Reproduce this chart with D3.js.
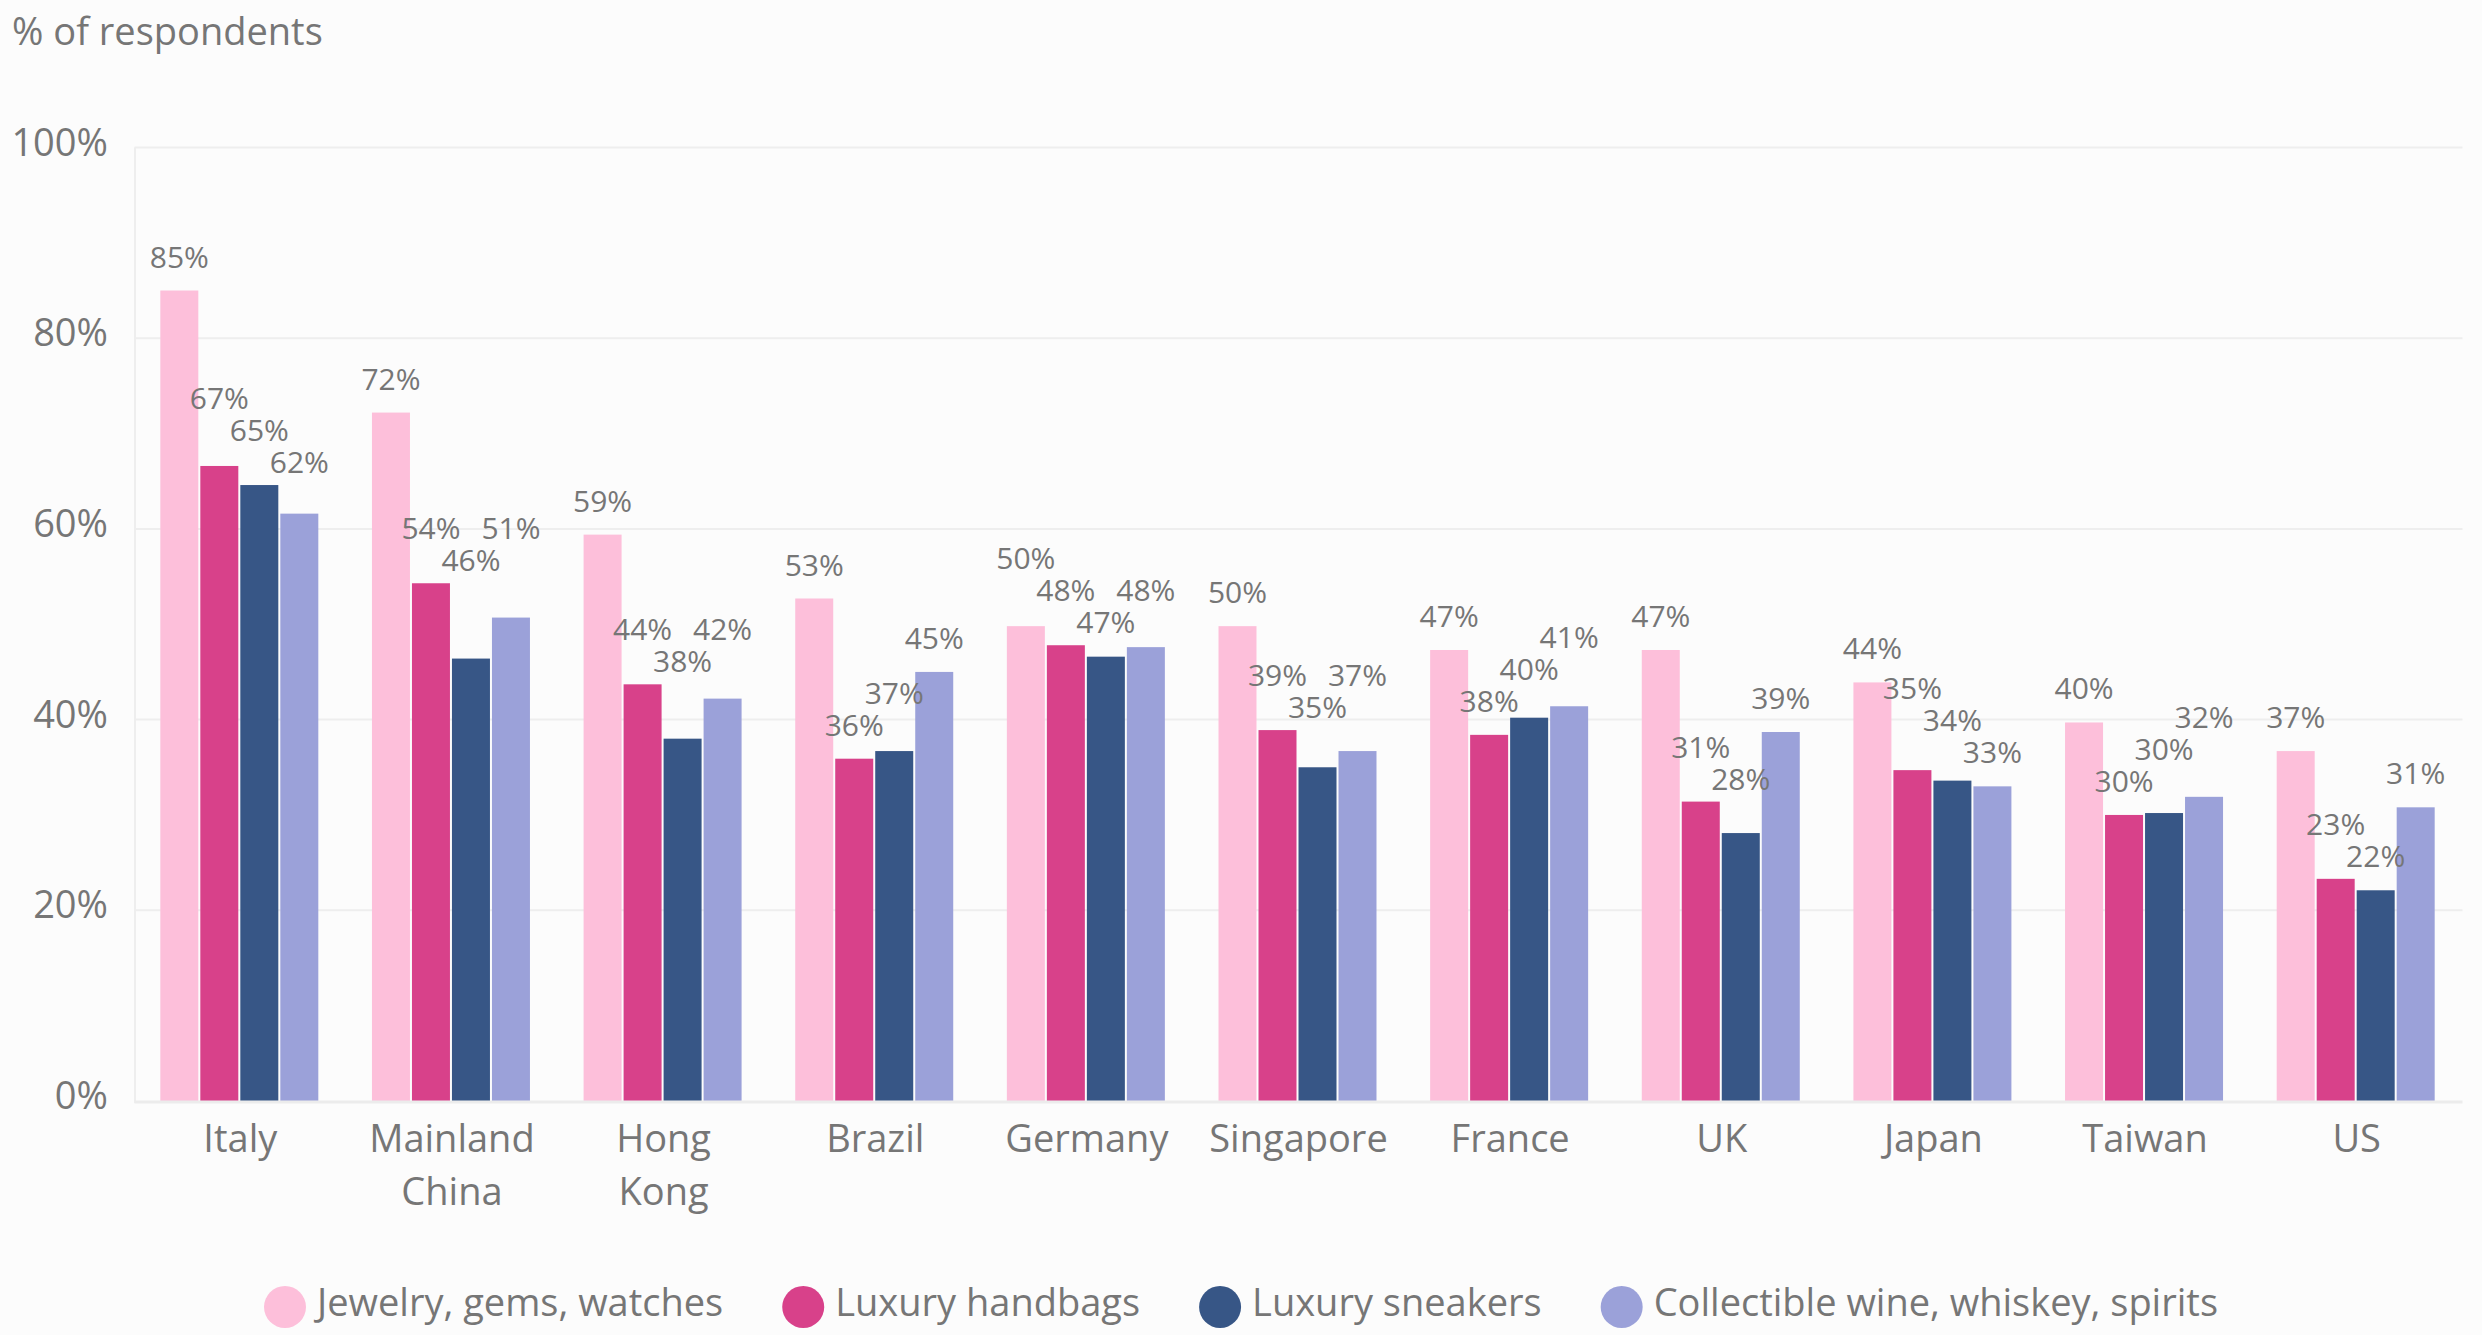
<!DOCTYPE html>
<html>
<head>
<meta charset="utf-8">
<script src="https://cdn.jsdelivr.net/npm/d3@7"></script>
<style>
  html, body { margin: 0; padding: 0; background: #fcfcfc; }
  svg { display: block; }
  text { font-family: "Open Sans", sans-serif; fill: #767676; }
</style>
</head>
<body>
<svg id="chart" width="2482" height="1335"></svg>
<script>
// ---------- data ----------
const categories = ["Italy", "Mainland China", "Hong Kong", "Brazil", "Germany", "Singapore", "France", "UK", "Japan", "Taiwan", "US"];
const seriesNames = ["Jewelry, gems, watches", "Luxury handbags", "Luxury sneakers", "Collectible wine, whiskey, spirits"];
const jewelry   = [85.0, 72.2, 59.4, 52.7, 49.8, 49.8, 47.3, 47.3, 43.9, 39.7, 36.7];
const handbags  = [66.6, 54.3, 43.7, 35.9, 47.8, 38.9, 38.4, 31.4, 34.7, 30.0, 23.3];
const sneakers  = [64.6, 46.4, 38.0, 36.7, 46.6, 35.0, 40.2, 28.1, 33.6, 30.2, 22.1];
const wine      = [61.6, 50.7, 42.2, 45.0, 47.6, 36.7, 41.4, 38.7, 33.0, 31.9, 30.8];
const yTicks = [0, 20, 40, 60, 80, 100];
const yTitle = "% of respondents";
const colors = ["#fdbfda", "#d8418a", "#375686", "#9ba1d9"];

const seriesValues = [jewelry, handbags, sneakers, wine];

// ---------- layout ----------
const svg = d3.select("#chart");
const W = 2482, H = 1335;
const plot = { left: 134.5, right: 2462.5, top: 147.5, bottom: 1101 };

const x0 = d3.scaleBand().domain(categories).range([plot.left, plot.right])
  .paddingInner(0.244).paddingOuter(0.122);
const x1 = d3.scaleBand().domain(d3.range(seriesNames.length)).range([0, x0.bandwidth()]);
const y = d3.scaleLinear().domain([0, 100]).range([plot.bottom, plot.top]);
const color = d3.scaleOrdinal().domain(d3.range(seriesNames.length)).range(colors);

// title
svg.append("text").attr("x", 12).attr("y", 45).attr("font-size", 38).text(yTitle);

// gridlines
const grid = svg.append("g");
grid.selectAll("line").data(yTicks.filter(t => t > 0)).join("line")
  .attr("x1", plot.left).attr("x2", plot.right)
  .attr("y1", d => y(d)).attr("y2", d => y(d))
  .attr("stroke", "#eeeeee").attr("stroke-width", 2);
// left axis line
svg.append("line").attr("x1", plot.left + 0.5).attr("x2", plot.left + 0.5)
  .attr("y1", y(100)).attr("y2", y(0) + 2)
  .attr("stroke", "#eeeeee").attr("stroke-width", 2);

// y axis via d3
const yAxis = d3.axisLeft(y).tickValues(yTicks).tickFormat(d => d + "%").tickSize(0).tickPadding(0);
const yg = svg.append("g").attr("transform", `translate(108,0)`).call(yAxis);
yg.select(".domain").remove();
yg.selectAll("text").attr("font-size", 38).attr("font-family", "Open Sans")
  .attr("fill", "#767676").attr("dy", "0.2em");

// bars
const rows = categories.map((c, ci) => ({ cat: c, vals: seriesValues.map(s => s[ci]) }));
const groups = svg.append("g").selectAll("g").data(rows).join("g")
  .attr("transform", d => `translate(${x0(d.cat)},0)`);
groups.selectAll("rect").data(d => d.vals.map((v, i) => ({ v, i }))).join("rect")
  .attr("x", d => x1(d.i))
  .attr("width", x1.bandwidth() - 2)
  .attr("y", d => y(d.v))
  .attr("height", d => y(0) - y(d.v))
  .attr("fill", d => color(d.i));

// baseline
svg.append("line").attr("x1", plot.left).attr("x2", plot.right)
  .attr("y1", y(0) + 1).attr("y2", y(0) + 1)
  .attr("stroke", "#ececec").attr("stroke-width", 3);

// value labels with simple collision avoidance within each group
const LABEL_OFF = 23, LABEL_H = 32, BAR_CLEAR = 12;
groups.each(function (d) {
  const g = d3.select(this);
  const labs = d.vals.map((v, i) => {
    const cx = x1(i) + (x1.bandwidth() - 2) / 2;
    const t = g.append("text")
      .attr("font-size", 30)
      .attr("text-anchor", "middle")
      .attr("x", cx)
      .text(Math.round(v) + "%");
    const w = t.node().getComputedTextLength();
    const natural = y(v) - LABEL_OFF;
    let yy = natural;
    if (i >= 2) yy = Math.min(yy, y(d.vals[i - 1]) - BAR_CLEAR);
    return { t, v, i, x0: cx - w / 2, x1: cx + w / 2, y: yy, natural };
  });
  const order = labs.slice().sort((a, b) => b.natural - a.natural);
  const placed = [];
  order.forEach(l => {
    let moved = true;
    while (moved) {
      moved = false;
      for (const p of placed) {
        const hOverlap = l.x0 < p.x1 && l.x1 > p.x0;
        if (hOverlap && Math.abs(l.y - p.y) < LABEL_H) {
          l.y = p.y - LABEL_H;
          moved = true;
        }
      }
    }
    placed.push(l);
  });
  labs.forEach(l => l.t.attr("y", l.y));
});

// x axis labels (wrapped)
const xg = svg.append("g");
categories.forEach(c => {
  const cx = x0(c) + x0.bandwidth() / 2;
  const t = xg.append("text").attr("font-size", 38).attr("text-anchor", "middle")
    .attr("x", cx).attr("y", 1152).text(c);
  if (t.node().getComputedTextLength() > x0.bandwidth() + 10) {
    const words = c.split(" ");
    t.text(null);
    words.forEach((w, k) => {
      t.append("tspan").attr("x", cx).attr("dy", k === 0 ? 0 : 53).text(w);
    });
  }
});

// legend
const leg = svg.append("g");
const R = 21, GAP_TEXT = 32, GAP_ITEM = 80;
let cursor = 0;
const items = seriesNames.map((name, i) => {
  const g = leg.append("g");
  g.append("circle").attr("cx", 0).attr("cy", 0).attr("r", R).attr("fill", color(i));
  const t = g.append("text").attr("x", GAP_TEXT).attr("y", 9).attr("font-size", 38).text(name);
  const w = t.node().getComputedTextLength();
  const item = { g, start: cursor };
  cursor += GAP_TEXT + w + GAP_ITEM;
  return item;
});
const totalW = cursor - GAP_ITEM + R;
const startX = W / 2 - totalW / 2 + R;
items.forEach(it => it.g.attr("transform", `translate(${startX + it.start},1307)`));
</script>
</body>
</html>
